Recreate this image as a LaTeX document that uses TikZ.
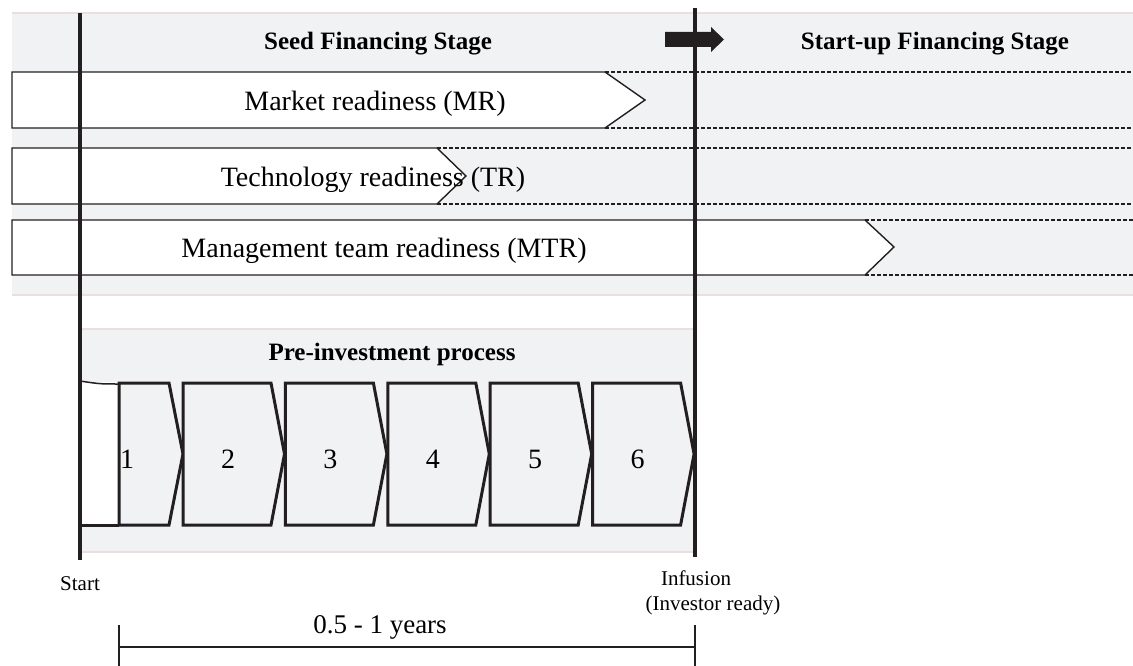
\documentclass[tikz,border=0pt]{standalone}
\usepackage{fontspec}
\setmainfont{Liberation Serif}
\usetikzlibrary{calc}
\definecolor{panelgray}{RGB}{241,242,244}
\definecolor{panelpink}{RGB}{236,222,222}
\definecolor{inkblack}{RGB}{35,31,32}

\begin{document}
\begin{tikzpicture}[x=1pt,y=-1pt,
        rowbox/.style={draw=inkblack,line width=1.4pt,fill=white},
        rowdots/.style={draw=inkblack,line width=1.8pt,dash pattern=on 3.5pt off 2.5pt},
        stepbox/.style={draw=inkblack,line width=3pt,fill=panelgray},
        stageline/.style={draw=inkblack,line width=4pt},
        edgeline/.style={draw=panelpink,line width=2pt},
        big/.style={font=\fontsize{28}{32}\selectfont,anchor=base,inner sep=0pt},
        head/.style={font=\fontsize{25}{30}\selectfont\bfseries,anchor=base,inner sep=0pt},
        small/.style={font=\fontsize{21}{25}\selectfont,anchor=base,inner sep=0pt}]
        \useasboundingbox (0,0) rectangle (1133,666);
        % panels
        \fill[panelgray] (12,13) rectangle (1133,295);
        \draw[edgeline] (12,13) -- (1133,13) (12,295) -- (1133,295);
        \fill[panelgray] (80,329) rectangle (695,552);
        \draw[edgeline] (80,329) -- (695,329) (80,552) -- (695,552);
        % readiness rows
        \draw[rowbox] (12,72) -- (605,72) -- (645,100) -- (605,128) -- (12,128) -- cycle;
        \draw[rowdots] (605,72) -- (1133,72) (605,128) -- (1133,128);
        \draw[rowbox] (12,148) -- (437,148) -- (466,176) -- (437,204) -- (12,204) -- cycle;
        \draw[rowdots] (437,148) -- (1133,148) (437,204) -- (1133,204);
        \draw[rowbox] (12,220) -- (865,220) -- (894,247) -- (865,275) -- (12,275) -- cycle;
        \draw[rowdots] (865,220) -- (1133,220) (865,275) -- (1133,275);
        \node[big] (mr) at (375,111) {Market readiness (MR)};
        \node[big] (tr) at (373,186) {Technology readiness (TR)};
        \node[big] (mtr) at (384,257) {Management team readiness (MTR)};
        \node[head] (seed) at (378,50) {Seed Financing Stage};
        \node[head] (startup) at (935,50) {Start-up Financing Stage};
        % stage arrow
        \fill[inkblack] (665,32) -- (711,32) -- (711,27) -- (724,39.5) -- (711,52) -- (711,47) -- (665,47) -- cycle;
        % pre-investment steps
        \node[head] (pre) at (392,360) {Pre-investment process};
        \fill[white] (80,382) rectangle (119,525);
        \draw[inkblack,line width=1.5pt] (80,381) .. controls (100,384) .. (119,384);
        \draw[stepbox] (119,383) -- (169,383) -- (183,454) -- (169,525) -- (119,525) -- cycle;
        \draw[inkblack,line width=3pt] (80,525) -- (119,525);
        \node[big] (s1) at (127,468) {1};
        \foreach \n in {2,...,6}{
            \pgfmathsetmacro\L{183+(\n-2)*102.4}
            \draw[stepbox] (\L,383) -- (\L+88,383) -- (\L+101.5,454) -- (\L+88,525) -- (\L,525) -- cycle;
            \node[big] (s\n) at (\L+45,468) {\n};
        }
        % start and infusion
        \coordinate (starttop) at (80,13);
        \coordinate (startbot) at (80,560);
        \coordinate (inftop) at (695,8);
        \coordinate (infbot) at (695,557);
        \draw[stageline] (starttop) -- (startbot);
        \draw[stageline] (inftop) -- (infbot);
        \node[small] (start) at (80,590) {Start};
        \node[small] (inf) at (696,585) {Infusion};
        \node[small] (ready) at (713,610) {(Investor ready)};
        % duration
        \coordinate (spanL) at (119,647);
        \coordinate (spanR) at (695,647);
        \draw[inkblack,line width=1.2pt] (spanL) -- (spanR);
        \draw[inkblack,line width=1.2pt] ($(spanL)+(0,-22)$) -- ($(spanL)+(0,19)$);
        \draw[inkblack,line width=1.2pt] ($(spanR)+(0,-22)$) -- ($(spanR)+(0,19)$);
        \node[big,font=\fontsize{27}{31}\selectfont] (years) at (380,633) {0.5 - 1 years};
\end{tikzpicture}
\end{document}
